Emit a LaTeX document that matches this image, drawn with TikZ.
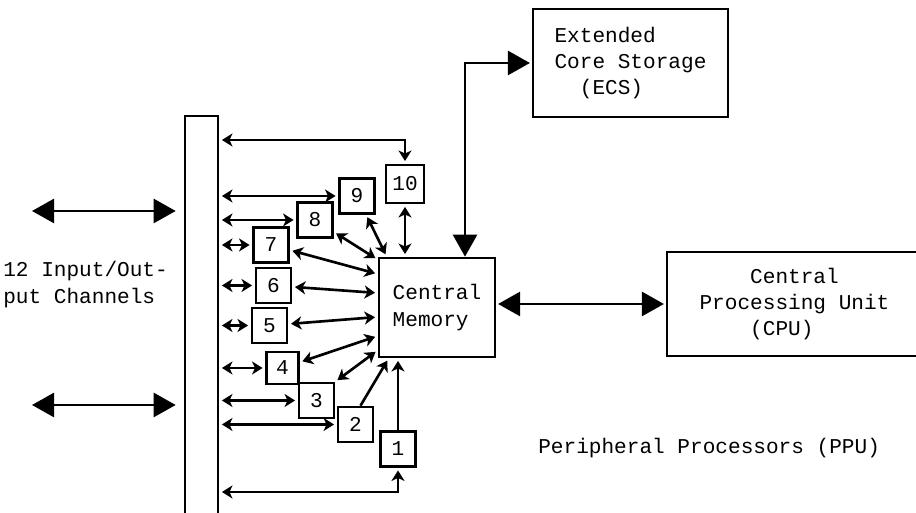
\documentclass[tikz,border=0pt]{standalone}
\usepackage{fontspec}
\setmonofont{Liberation Mono}
\usetikzlibrary{positioning,arrows.meta}

\begin{document}
\begin{tikzpicture}[font=\ttfamily\fontsize{12}{15}\selectfont, line width=1.5pt,
  ppu/.style={draw, minimum size=0.7cm, inner sep=1pt},
  unit/.style={draw, align=left},
  link/.style={{Stealth[length=2.1mm,width=2.6mm,inset=0.6mm]}-{Stealth[length=2.1mm,width=2.6mm,inset=0.6mm]}, shorten <=1.5pt, shorten >=1.5pt},
  feed/.style={-{Stealth[length=2.1mm,width=2.6mm,inset=0.6mm]}, shorten >=1.5pt},
  bigarrow/.style={{Triangle[length=4.4mm,width=4.8mm]}-{Triangle[length=4.4mm,width=4.8mm]}}]
\useasboundingbox (0,0) rectangle (18.32,10.26);

% channel bus, open at the bottom
\node[draw, minimum width=0.66cm, minimum height=8.44cm, inner sep=0] (bus) at (4.03,3.72) {};

% i/o channels
\coordinate (io1) at (0.64,6.04);
\coordinate (io2) at (0.64,2.16);
\draw[bigarrow, shorten >=0.16cm] (io1) -- (io1 -| bus.west);
\draw[bigarrow, shorten >=0.16cm] (io2) -- (io2 -| bus.west);
\node[align=left, anchor=west, inner sep=0] (iolabel) at (0.04,4.57) {12 Input/Out-\\put Channels};

% peripheral processors
\node[ppu] (p1) at (7.96,1.28) {1};
\node[ppu] (p2) at (7.11,1.77) {2};
\node[ppu] (p3) at (6.33,2.25) {3};
\node[ppu, minimum size=0.64cm] (p4) at (5.65,2.90) {4};
\node[ppu] (p5) at (5.39,3.75) {5};
\node[ppu] (p6) at (5.47,4.55) {6};
\node[ppu] (p7) at (5.42,5.36) {7};
\node[ppu] (p8) at (6.30,5.86) {8};
\node[ppu] (p9) at (7.14,6.34) {9};
\node[ppu, minimum size=0.76cm] (p10) at (8.10,6.58) {10};

% main units
\node[unit, minimum width=2.32cm, minimum height=1.98cm] (cm) at (8.74,4.11) {Central\\Memory};
\node[unit, minimum width=3.90cm, minimum height=2.16cm] (ecs) at (12.61,9.00) {Extended\\Core Storage\\\phantom{Co}(ECS)};
\node[unit, minimum width=5.10cm, minimum height=2.08cm] (cpu) at (15.89,4.18) {\phantom{Proc}Central\\Processing Unit\\\phantom{Proc}(CPU)};
\node[anchor=west, inner sep=0] (ppulabel) at (10.74,1.30) {Peripheral Processors (PPU)};

% bus to processors
\coordinate (top) at (0,7.46);
\coordinate (bottom) at (0,0.42);
\draw[link] (bus.east |- top) -| (p10.north);
\draw[link] (bus.east |- p9.west) -- (p9.west);
\draw[link] (bus.east |- p8.west) -- (p8.west);
\draw[link] (bus.east |- p7.west) -- (p7.west);
\draw[link] (bus.east |- p6.west) -- (p6.west);
\draw[link] (bus.east |- p5.west) -- (p5.west);
\draw[link] (bus.east |- p4.west) -- (p4.west);
\draw[link] (bus.east |- p3.west) -- (p3.west);
\draw[link] (bus.east |- p2.west) -- (p2.west);
\draw[link] (bus.east |- bottom) -| (p1.south);

% processors to central memory
\draw[link] (p10.south) -- (p10.south |- cm.north);
\draw[link] (p9) -- ([xshift=0.18cm]cm.north west);
\draw[link] (p8) -- ([yshift=-0.06cm]cm.north west);
\draw[link] (p7) -- ([yshift=0.67cm]cm.west);
\draw[link] (p6) -- ([yshift=0.29cm]cm.west);
\draw[link] (p5) -- ([yshift=-0.19cm]cm.west);
\draw[link] (p4) -- ([yshift=-0.57cm]cm.west);
\draw[link] (p3.north east) -- ([yshift=0.16cm]cm.south west);
\draw[feed] ([xshift=0.1cm]p2.north) -- ([xshift=0.22cm]cm.south west);
\draw[feed] (p1.north) -- (p1.north |- cm.south);

% memory links
\draw[bigarrow, shorten <=1pt] (ecs.west) -| ([xshift=0.56cm]cm.north);
\draw[bigarrow, shorten <=1pt, shorten >=1pt] (cm.east |- cpu.west) -- (cpu.west);
\end{tikzpicture}
\end{document}
